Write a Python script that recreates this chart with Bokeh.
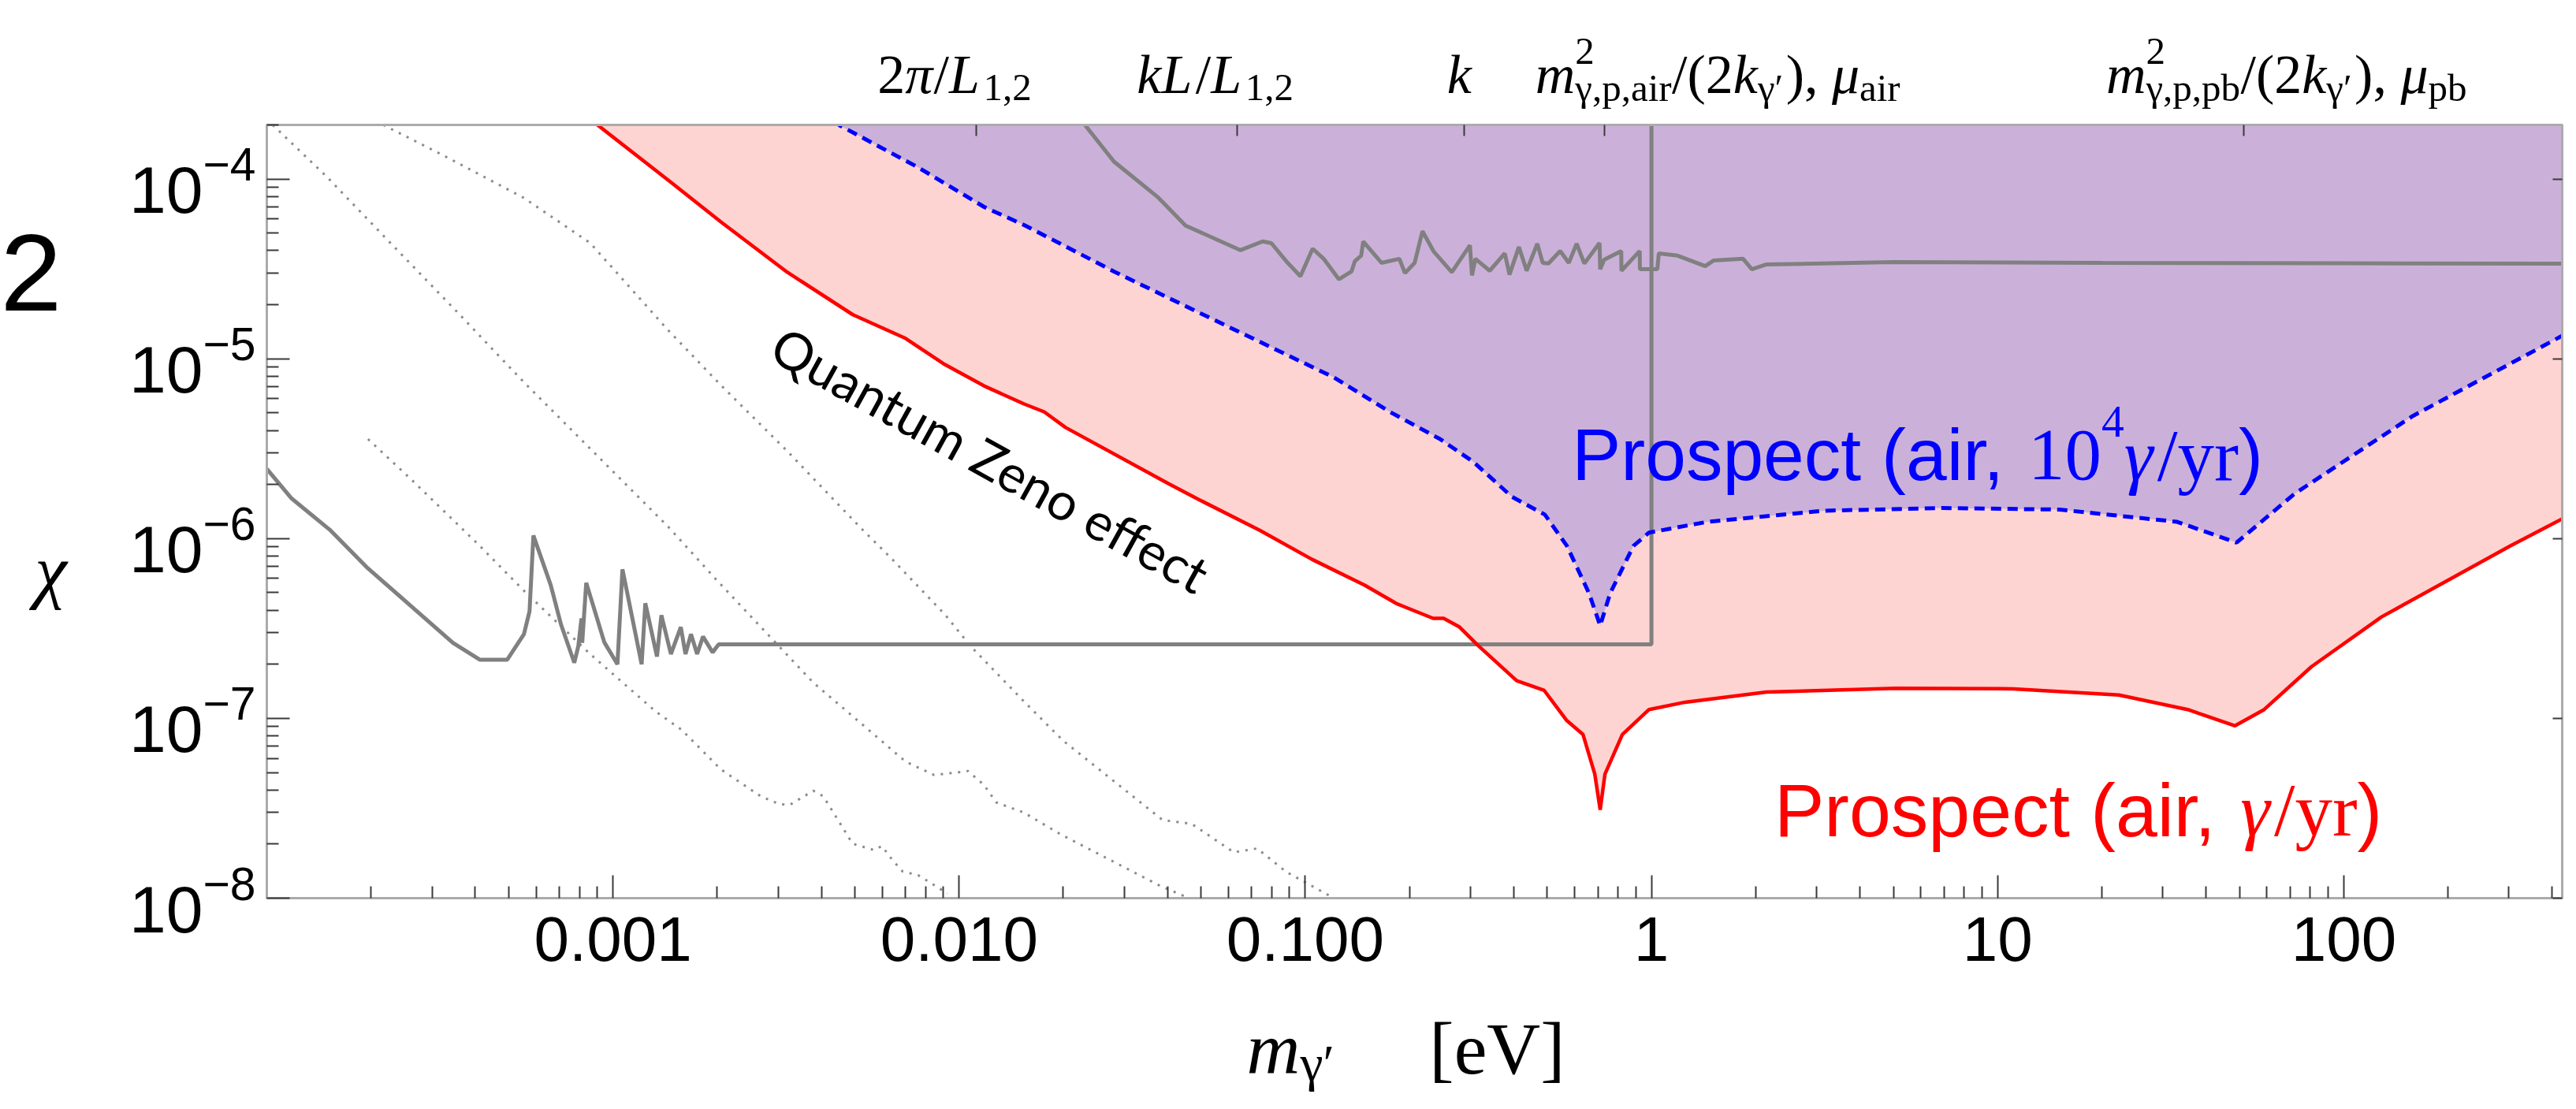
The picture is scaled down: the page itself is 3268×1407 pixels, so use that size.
import numpy as np
from bokeh.plotting import figure
from bokeh.layouts import row, column
from bokeh.models import Range1d, FixedTicker, LogAxis, Label, LogTickFormatter, CustomJSTickFormatter
from bokeh.embed import file_html
from bokeh.resources import INLINE

# ---------------- data ----------------
# Prospect (air, gamma/yr) : red solid
red_x = [8.6e-4, 1.48e-3, 2.06e-3, 3.19e-3, 4.93e-3, 7.0e-3, 9.1e-3, 0.0118, 0.0154, 0.0176,
         0.0203, 0.0403, 0.0486, 0.074, 0.1045, 0.1485, 0.183, 0.234, 0.251, 0.279, 0.315,
         0.408, 0.49, 0.568, 0.634, 0.686, 0.711, 0.734, 0.824, 0.984, 1.25, 2.15, 5.08, 11.1,
         22.4, 35.4, 48.5, 58.9, 80.7, 128.6, 303, 451]
red_y = [2.15e-4, 9.5e-5, 5.73e-5, 3.03e-5, 1.76e-5, 1.30e-5, 9.29e-6, 7.07e-6, 5.61e-6, 5.07e-6,
         4.15e-6, 2.02e-6, 1.67e-6, 1.11e-6, 7.67e-7, 5.5e-7, 4.36e-7, 3.6e-7, 3.6e-7, 3.22e-7, 2.55e-7,
         1.62e-7, 1.43e-7, 9.77e-8, 8.15e-8, 4.9e-8, 3.1e-8, 4.9e-8, 8.13e-8, 1.12e-7, 1.23e-7, 1.40e-7,
         1.47e-7, 1.46e-7, 1.35e-7, 1.12e-7, 9.1e-8, 1.12e-7, 1.94e-7, 3.67e-7, 9.12e-7, 1.36e-6]

# Prospect (air, 10^4 gamma/yr) : blue dashed
blue_x = [4.4e-3, 4.51e-3, 7.62e-3, 0.0118, 0.0154, 0.0203, 0.028, 0.0582, 0.121, 0.176, 0.245,
          0.306, 0.395, 0.492, 0.57, 0.66, 0.711, 0.76, 0.887, 0.984, 1.45, 3.17, 6.93, 15.1, 33,
          49, 72.2, 158, 451]
blue_y = [2.15e-4, 1.99e-4, 1.16e-4, 7.0e-5, 5.55e-5, 4.22e-5, 3.06e-5, 1.55e-5, 7.88e-6, 5.05e-6,
          3.58e-6, 2.67e-6, 1.71e-6, 1.36e-6, 9.1e-7, 4.97e-7, 3.28e-7, 4.97e-7, 9.1e-7, 1.08e-6,
          1.24e-6, 1.43e-6, 1.48e-6, 1.45e-6, 1.24e-6, 9.5e-7, 1.78e-6, 4.8e-6, 1.42e-5]

# existing bound, lower part (grey solid) incl. vertical edge at 1 eV
zlo_x = [1.0e-4, 1.18e-4, 1.52e-4, 1.94e-4, 3.45e-4, 4.12e-4, 4.95e-4, 5.53e-4, 5.74e-4, 5.89e-4,
         6.61e-4, 7.08e-4, 7.73e-4, 7.94e-4, 8.11e-4, 8.15e-4, 8.37e-4, 9.44e-4, 1.03e-3, 1.065e-3,
         1.21e-3, 1.24e-3, 1.34e-3, 1.38e-3, 1.47e-3, 1.57e-3, 1.62e-3, 1.68e-3, 1.75e-3, 1.82e-3,
         1.94e-3, 2.02e-3, 1.0, 1.0]
zlo_y = [2.44e-6, 1.67e-6, 1.12e-6, 6.95e-7, 2.63e-7, 2.12e-7, 2.12e-7, 2.94e-7, 3.94e-7, 1.04e-6,
         5.51e-7, 3.32e-7, 2.04e-7, 2.52e-7, 3.6e-7, 2.63e-7, 5.68e-7, 2.65e-7, 2.0e-7, 6.75e-7,
         2.0e-7, 4.37e-7, 2.21e-7, 3.75e-7, 2.28e-7, 3.22e-7, 2.28e-7, 2.94e-7, 2.28e-7, 2.85e-7,
         2.33e-7, 2.58e-7, 2.58e-7, 3.0e-4]

# existing bound, upper part (grey solid)
zhi_x = [0.0222, 0.028, 0.0375, 0.0451, 0.065, 0.0753, 0.0798, 0.0881, 0.0968, 0.105, 0.113, 0.125,
         0.136, 0.139, 0.145, 0.147, 0.166, 0.187, 0.194, 0.207, 0.218, 0.235, 0.265, 0.299, 0.303,
         0.310, 0.341, 0.377, 0.389, 0.414, 0.436, 0.468, 0.485, 0.504, 0.545, 0.577, 0.608, 0.640,
         0.708, 0.711, 0.730, 0.818, 0.819, 0.925, 0.926, 1.04, 1.05, 1.19, 1.43, 1.51, 1.84, 1.95,
         2.15, 5.0, 20.0, 100.0, 451.0]
zhi_y = [2.2e-4, 1.25e-4, 7.93e-5, 5.51e-5, 4.02e-5, 4.5e-5, 4.4e-5, 3.49e-5, 2.88e-5, 4.10e-5,
         3.60e-5, 2.77e-5, 3.06e-5, 3.49e-5, 3.75e-5, 4.50e-5, 3.42e-5, 3.60e-5, 3.0e-5, 3.42e-5,
         5.13e-5, 3.95e-5, 3.03e-5, 4.28e-5, 2.91e-5, 3.60e-5, 3.09e-5, 3.86e-5, 2.94e-5, 4.19e-5,
         3.09e-5, 4.37e-5, 3.42e-5, 3.39e-5, 3.98e-5, 3.42e-5, 4.37e-5, 3.39e-5, 4.41e-5, 3.15e-5,
         3.56e-5, 3.98e-5, 3.09e-5, 3.98e-5, 3.15e-5, 3.15e-5, 3.86e-5, 3.75e-5, 3.28e-5, 3.52e-5,
         3.6e-5, 3.15e-5, 3.35e-5, 3.45e-5, 3.42e-5, 3.40e-5, 3.38e-5]

# dotted grey curves
d1_x = [1.04e-4, 1.49e-4, 2.23e-4, 3.52e-4, 5.53e-4, 8.41e-4, 1.44e-3, 1.99e-3, 2.87e-3, 3.79e-3,
        5.38e-3, 7.0e-3, 8.45e-3, 9.88e-3, 0.0106, 0.0118, 0.0128, 0.0154, 0.0196, 0.0381, 0.0462]
d1_y = [2.0e-4, 1.03e-4, 4.59e-5, 1.85e-5, 7.41e-6, 3.3e-6, 1.17e-6, 5.9e-7, 2.79e-7, 1.58e-7,
        8.89e-8, 5.75e-8, 4.85e-8, 5.0e-8, 5.1e-8, 4.26e-8, 3.41e-8, 2.99e-8, 2.27e-8, 1.17e-8, 1.0e-8]
d2_x = [2.17e-4, 3.27e-4, 5.53e-4, 8.59e-4, 1.44e-3, 2.05e-3, 3.18e-3, 5.19e-3, 6.4e-3, 9.1e-3,
        0.0108, 0.0154, 0.02, 0.0387, 0.047, 0.0621, 0.0726, 0.0881, 0.121]
d2_y = [2.0e-4, 1.34e-4, 7.85e-5, 4.41e-5, 1.45e-5, 7.13e-6, 3.08e-6, 1.15e-6, 7.69e-7, 3.78e-7,
        2.52e-7, 1.24e-7, 7.5e-8, 2.72e-8, 2.59e-8, 1.8e-8, 1.89e-8, 1.40e-8, 1.0e-8]
d3_x = [1.96e-4, 2.57e-4, 3.01e-4, 4.12e-4, 5.53e-4, 8.59e-4, 1.33e-3, 1.58e-3, 2.05e-3, 2.67e-3,
        3.03e-3, 3.24e-3, 3.79e-3, 4.05e-3, 4.51e-3, 4.92e-3, 5.68e-3, 5.98e-3, 6.4e-3, 6.86e-3,
        7.62e-3, 8.31e-3, 9.25e-3]
d3_y = [3.58e-6, 2.2e-6, 1.64e-6, 9.12e-7, 5.13e-7, 2.28e-7, 1.09e-7, 8.63e-8, 5.2e-8, 3.69e-8,
        3.33e-8, 3.3e-8, 3.96e-8, 3.69e-8, 2.64e-8, 2.01e-8, 1.85e-8, 1.95e-8, 1.64e-8, 1.41e-8,
        1.34e-8, 1.21e-8, 1.06e-8]

# axes
x_ticks = [0.001, 0.01, 0.1, 1, 10, 100]
x_tick_labels = ["0.001", "0.010", "0.100", "1", "10", "100"]
y_ticks = [1e-8, 1e-7, 1e-6, 1e-5, 1e-4]
top_ticks = [0.0112, 0.0634, 0.288, 0.73, 51.4]
X_MIN, X_MAX = 1e-4, 10 ** 2.631
Y_MIN, Y_MAX = 1e-8, 2e-4
FILL_TOP = 1e-3

# ---------------- layout geometry (screenshot px; page margin 8) ----------------
M0 = 8
TOTAL_W, TOTAL_H = 3252, 1391
WL = 120                    # left text strip
HT = 140                    # top text strip
HB = 122                    # bottom text strip
WR = TOTAL_W - WL
HM = TOTAL_H - HT - HB
X_R0 = M0 + WL
Y_T1 = M0 + HT
Y_M1 = Y_T1 + HM
Y_B1 = M0 + TOTAL_H
FR_L, FR_R, FR_T, FR_B = 346, M0 + TOTAL_W - 2, 166, 1147   # plot frame (screenshot px)

xr = Range1d(X_MIN, X_MAX)
yr = Range1d(Y_MIN, Y_MAX)

def blank_fig(**kw):
    f = figure(output_backend="svg", toolbar_location=None,
               x_axis_location=None, y_axis_location=None, **kw)
    f.grid.visible = False
    f.outline_line_color = None
    f.background_fill_color = "white"
    f.border_fill_color = "white"
    return f

# strips share the frame extent of the main plot along their shared axis
top = blank_fig(width=WR, height=HT, x_axis_type="log", x_range=xr, y_range=Range1d(Y_T1, M0),
                min_border_left=FR_L - X_R0, min_border_right=2, min_border_top=0, min_border_bottom=0)
bottom = blank_fig(width=WR, height=HB, x_axis_type="log", x_range=xr, y_range=Range1d(Y_B1, Y_M1),
                   min_border_left=FR_L - X_R0, min_border_right=2, min_border_top=0, min_border_bottom=0)
left = blank_fig(width=WL, height=TOTAL_H, y_axis_type="log", y_range=yr, x_range=Range1d(M0, X_R0),
                 min_border_left=0, min_border_right=0, min_border_top=FR_T - M0,
                 min_border_bottom=Y_B1 - FR_B)

# ---------------- main figure ----------------
p = figure(width=WR, height=HM, x_axis_type="log", y_axis_type="log", x_range=xr, y_range=yr,
           output_backend="svg", toolbar_location=None,
           min_border_left=FR_L - X_R0, min_border_right=2,
           min_border_top=FR_T - Y_T1, min_border_bottom=Y_M1 - FR_B)
p.grid.visible = False
p.background_fill_color = "white"
p.border_fill_color = "white"
p.outline_line_color = "#ababab"
p.outline_line_width = 3

FRAME = "#ababab"
TICK = "#3a3a3a"

def minor_for(decades):
    out = []
    for d in decades:
        for k in range(2, 10):
            out.append(k * 10.0 ** d)
    return out

xa = p.xaxis[0]
xa.ticker = FixedTicker(ticks=x_ticks, minor_ticks=minor_for(range(-4, 3)))
xa.major_label_overrides = {t: s for t, s in zip(x_ticks, x_tick_labels)}
ya = p.yaxis[0]
ya.ticker = FixedTicker(ticks=y_ticks, minor_ticks=minor_for(range(-8, -3)))
ya.formatter = LogTickFormatter()
for ax in (xa, ya):
    ax.axis_line_color = FRAME
    ax.axis_line_width = 3
    ax.major_tick_in = 29
    ax.major_tick_out = 0
    ax.minor_tick_in = 15
    ax.minor_tick_out = 0
    ax.major_tick_line_color = TICK
    ax.minor_tick_line_color = TICK
    ax.major_tick_line_width = 2
    ax.minor_tick_line_width = 2
    ax.major_label_text_font = "Liberation Sans"
    ax.major_label_text_color = "black"
xa.major_label_text_font_size = "80px"
ya.major_label_text_font_size = "84px"
xa.major_label_standoff = 24
ya.major_label_standoff = 14

blank = CustomJSTickFormatter(code="return ' '")
top_ax = LogAxis(ticker=FixedTicker(ticks=top_ticks), formatter=blank,
                 major_label_text_font_size="2px", major_label_text_color=None,
                 major_label_standoff=0, major_tick_in=14, major_tick_out=0,
                 minor_tick_line_color=None, axis_line_color=FRAME, axis_line_width=3,
                 major_tick_line_color=TICK, major_tick_line_width=2)
right_ax = LogAxis(ticker=FixedTicker(ticks=y_ticks), formatter=blank,
                   major_label_text_font_size="2px", major_label_text_color=None,
                   major_label_standoff=0, major_tick_in=12, major_tick_out=0,
                   minor_tick_line_color=None, axis_line_color=FRAME, axis_line_width=3,
                   major_tick_line_color=TICK, major_tick_line_width=2)
p.add_layout(top_ax, "above")
p.add_layout(right_ax, "right")

# ---------------- marks ----------------
p.varea(x=red_x, y1=red_y, y2=[FILL_TOP] * len(red_x), fill_color="#fdd4d1")
p.varea(x=blue_x, y1=blue_y, y2=[FILL_TOP] * len(blue_x), fill_color="#cbb1d9")

for dx, dy in ((d1_x, d1_y), (d2_x, d2_y), (d3_x, d3_y)):
    p.line(dx, dy, line_color="#8c8c8c", line_width=3, line_dash="3 8")

p.line(zlo_x, zlo_y, line_color="#808080", line_width=5)
p.line(zhi_x, zhi_y, line_color="#808080", line_width=5)
p.line(red_x, red_y, line_color="#ff0000", line_width=4.5)
p.line(blue_x, blue_y, line_color="#0000ff", line_width=5, line_dash="13 8")

# ---------------- text ----------------
def px2x(X):
    return 10 ** (-4 + (X - FR_L) / 439.5)

def px2y(Y):
    return 10 ** (-8 + (FR_B - Y) / 227.9)

def ident(v):
    return v

FONT = {"sans": "Liberation Sans", "serif": "Liberation Serif"}
WID = {
    ("sans", "normal"): {'P': .667, 'r': .333, 'o': .556, 's': .5, 'p': .556, 'e': .556, 'c': .5,
                         't': .278, ' ': .278, '(': .333, ')': .333, 'a': .556, 'i': .222, ',': .278},
    ("serif", "normal"): {' ': .25, ',': .25, '.': .25, '(': .333, ')': .333, '/': .278, '[': .333,
                          ']': .333, 'a': .444, 'b': .5, 'e': .444, 'i': .278, 'p': .5, 'r': .333,
                          'y': .5, 'V': .722, 'γ': .45, '′': .28},
    ("serif", "italic"): {'k': .444, 'L': .62, 'm': .722, 'γ': .45, 'μ': .5, 'π': .52, 'χ': .55},
}

def tw(txt, fam, style):
    tab = WID.get((fam, style), {})
    return sum(tab.get(c, 0.5) for c in txt)

def runs_width(runs, S):
    return sum(tw(t, f, s) * S * sf for t, f, s, sf, dyf, adv in runs if adv)

def rich(fig, X, Y, runs, S, color="black", align="left", xc=px2x, yc=px2y):
    """Place runs of differently styled text; X, Y are screenshot px of the baseline start."""
    total = runs_width(runs, S)
    start = X - {"left": 0, "center": total / 2, "right": total}[align]
    off = 0.0
    for txt, fam, style, sf, dyf, adv in runs:
        size = S * sf
        fig.add_layout(Label(x=xc(start), y=yc(Y), x_offset=off, y_offset=dyf * S, text=txt,
                             text_font=FONT[fam], text_font_style=style,
                             text_font_size=f"{size:.1f}px", text_color=color,
                             text_align="left", text_baseline="alphabetic"))
        if adv:
            off += tw(txt, fam, style) * size

N, I = "normal", "italic"
SUB, SUP = -0.24, 0.42
TS = 70
TOP_BASE = 102
rich(top, 1219, TOP_BASE, [("2", "serif", N, 1, 0, True), ("π", "serif", I, 1, 0, True),
                           ("/", "serif", N, 1, 0, True), ("L", "serif", I, 1, 0, True),
                           ("1,2", "serif", N, .7, SUB, True)], TS, align="center", yc=ident)
rich(top, 1550, TOP_BASE, [("k", "serif", I, 1, 0, True), ("L", "serif", I, 1, 0, True),
                           ("/", "serif", N, 1, 0, True), ("L", "serif", I, 1, 0, True),
                           ("1,2", "serif", N, .7, SUB, True)], TS, align="center", yc=ident)
rich(top, 1860, TOP_BASE, [("k", "serif", I, 1, 0, True)], TS, align="center", yc=ident)
for centre, med in ((2188, "air"), (2910, "pb")):
    rich(top, centre, TOP_BASE, [("m", "serif", I, 1, 0, True), ("2", "serif", N, .7, SUP, False),
                                 ("γ,p," + med, "serif", N, .7, SUB, True),
                                 ("/(2", "serif", N, 1, 0, True), ("k", "serif", I, 1, 0, True),
                                 ("γ′", "serif", N, .7, SUB, True), ("), ", "serif", N, 1, 0, True),
                                 ("μ", "serif", I, 1, 0, True), (med, "serif", N, .7, SUB, True)],
         TS, align="center", yc=ident)

# x-axis title (kept clear of the strip's bottom edge)
rich(bottom, 1590, 1337, [("m", "serif", I, 1, 0, True), ("γ′", "serif", N, .7, -0.2, True)], 94, yc=ident)
rich(bottom, 1822, 1337, [("[eV]", "serif", N, 1, 0, True)], 94, yc=ident)
# y-axis title and panel remnant (left strip)
left.add_layout(Label(x=72, y=px2y(732), text="χ", text_font="Liberation Serif", text_font_style="italic",
                      text_font_size="92px", text_align="center", text_baseline="alphabetic",
                      text_color="black"))
left.add_layout(Label(x=M0, y=px2y(354), text="2", text_font="Liberation Sans", text_font_size="140px",
                      text_align="left", text_baseline="alphabetic", text_color="black"))

# curve labels (inside the frame)
rich(p, 2003, 585, [("Prospect (air, ", "sans", N, 1, 0, True), ("10", "serif", N, 1, 0, True),
                    ("4", "serif", N, .62, .45, True), ("γ", "serif", I, 1, 0, True),
                    ("/yr", "serif", N, 1, 0, True), (")", "sans", N, 1, 0, True)], 93, "#0000ff")
rich(p, 2260, 1036, [("Prospect (air, ", "sans", N, 1, 0, True), ("γ", "serif", I, 1, 0, True),
                     ("/yr", "serif", N, 1, 0, True), (")", "sans", N, 1, 0, True)], 95, "#ff0000")

p.add_layout(Label(x=px2x(993), y=px2y(440), text="Quantum Zeno effect", angle=-0.506,
                   text_font="Lato", text_font_size="66px", text_align="left",
                   text_baseline="middle", text_color="black"))

layout = row(left, column(top, p, bottom, spacing=0), spacing=0)
open("out.html", "w").write(file_html(layout, INLINE))
